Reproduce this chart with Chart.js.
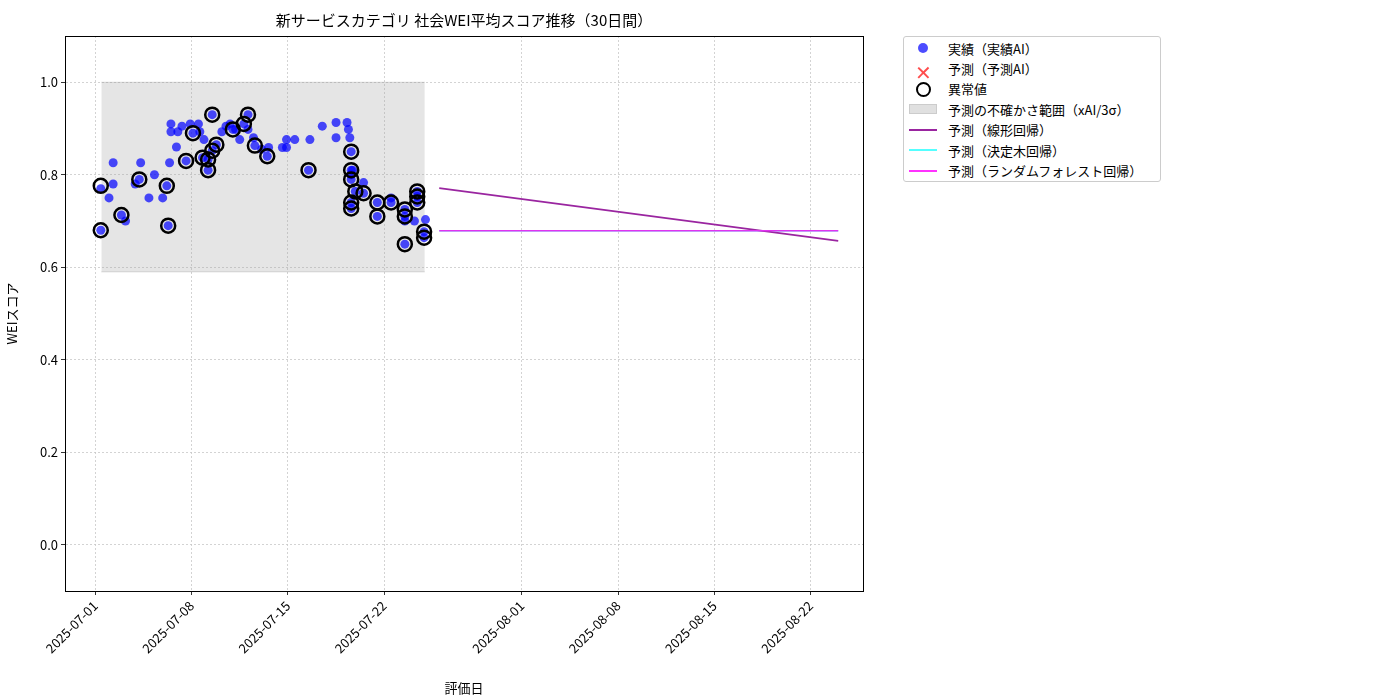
<!DOCTYPE html>
<html><head><meta charset="utf-8">
<script src="https://cdn.jsdelivr.net/npm/chart.js@4"></script>
<style>
body{margin:0;background:#fff;font-family:"Noto Sans CJK JP","DejaVu Sans",sans-serif;}
#wrap{position:relative;width:1400px;height:700px;}
#legend{position:absolute;left:903px;top:36px;width:258px;height:146px;border:1px solid #ccc;border-radius:3px;background:#fff;font-size:13px;color:#000;padding-top:1px;box-sizing:border-box}
.row{height:20.4px;display:flex;align-items:center}
.sym{width:44px;height:16px;position:relative;flex:none}
</style></head><body>
<div id="wrap"><canvas id="c" width="1400" height="700"></canvas>
<div id="legend">
<div class="row"><div class="sym"><div style="position:absolute;left:14px;top:3px;width:10px;height:10px;border-radius:50%;background:rgba(0,0,255,0.7)"></div></div>実績（実績AI）</div>
<div class="row"><div class="sym"><span style="position:absolute;left:11px;top:-4px;font-size:20px;color:rgba(255,0,0,0.7)">✕</span></div>予測（予測AI）</div>
<div class="row"><div class="sym"><div style="position:absolute;left:12px;top:1px;width:11px;height:11px;border-radius:50%;border:2.5px solid #000"></div></div>異常値</div>
<div class="row"><div class="sym"><div style="position:absolute;left:5px;top:3px;width:28px;height:10px;background:#e0e0e0;border:1px solid #ccc;box-sizing:border-box"></div></div>予測の不確かさ範囲（xAI/3σ）</div>
<div class="row"><div class="sym"><div style="position:absolute;left:5px;top:7px;width:28px;height:2px;background:#9a25a0"></div></div>予測（線形回帰）</div>
<div class="row"><div class="sym"><div style="position:absolute;left:5px;top:7px;width:28px;height:2px;background:#55ffff"></div></div>予測（決定木回帰）</div>
<div class="row"><div class="sym"><div style="position:absolute;left:5px;top:7px;width:28px;height:2px;background:#ff33ff"></div></div>予測（ランダムフォレスト回帰）</div>
</div></div>
<script>
// days since 2025-07-01
const actualDays = [0.4,0.4,1.0,1.3,1.3,1.9,2.2,2.9,3.2,3.3,3.9,4.3,4.9,5.2,5.3,5.4,5.5,5.5,5.9,6.0,6.3,6.6,6.9,7.1,7.5,7.6,7.9,7.8,8.2,8.2,8.5,8.5,8.8,9.2,9.5,9.8,10.0,10.2,10.5,10.8,11.1,11.1,11.5,11.6,12.1,12.5,12.6,13.6,13.9,13.9,14.5,15.5,15.6,16.5,17.5,17.5,18.3,18.4,18.5,18.6,18.6,18.6,18.7,18.6,19.5,18.9,19.5,18.6,18.6,20.5,20.5,21.5,21.5,22.5,22.5,22.5,23.2,22.5,23.4,23.4,23.4,24.0,23.9,23.9];
const actualVals = [0.77,0.68,0.75,0.826,0.78,0.713,0.70,0.78,0.79,0.826,0.75,0.80,0.75,0.776,0.69,0.826,0.893,0.91,0.86,0.893,0.905,0.83,0.91,0.89,0.91,0.893,0.876,0.837,0.81,0.833,0.852,0.93,0.865,0.893,0.905,0.91,0.898,0.898,0.876,0.91,0.898,0.93,0.88,0.863,0.855,0.84,0.859,0.859,0.876,0.859,0.876,0.81,0.876,0.905,0.913,0.88,0.913,0.898,0.88,0.85,0.81,0.79,0.81,0.80,0.783,0.764,0.76,0.74,0.727,0.74,0.71,0.75,0.74,0.725,0.71,0.70,0.70,0.65,0.764,0.753,0.74,0.703,0.677,0.664];
const anomalyDays = [0.4,0.4,1.9,3.2,5.2,5.3,6.6,7.1,7.8,8.2,8.2,8.5,8.5,8.8,10.0,10.8,11.1,11.6,12.5,15.5,18.6,18.6,18.6,18.9,19.5,18.6,18.6,20.5,20.5,21.5,22.5,22.5,22.5,23.4,23.4,23.4,23.9,23.9];
const anomalyVals = [0.776,0.68,0.713,0.79,0.776,0.69,0.83,0.89,0.837,0.81,0.833,0.852,0.93,0.865,0.898,0.91,0.93,0.863,0.84,0.81,0.85,0.81,0.79,0.764,0.76,0.74,0.727,0.74,0.71,0.74,0.725,0.71,0.65,0.764,0.753,0.74,0.677,0.664];
const forecastDays = [25,54];
const linearVals = [0.771,0.657];
const treeVals = [0.679,0.679];
const forestVals = [0.679,0.679];
const bandDays = [0.44,23.95];
const bandUpper = [1.0,1.0];
const bandLower = [0.59,0.59];
const xTickDays = [0,7,14,21,31,38,45,52];
const yTickVals = [0,0.2,0.4,0.6,0.8,1.0];
const title = "新サービスカテゴリ 社会WEI平均スコア推移（30日間）";

const pts=(xs,ys)=>xs.map((x,i)=>({x,y:ys[i]}));
function dayLabel(d){const t=new Date(Date.UTC(2025,6,1)+d*86400000);return t.toISOString().slice(0,10);}
const F='"Noto Sans CJK JP","DejaVu Sans",sans-serif';
new Chart(document.getElementById('c'),{
 type:'scatter',
 data:{datasets:[
  {type:'line',data:pts(bandDays,bandLower),borderColor:'rgba(150,150,150,0.3)',borderWidth:1,pointRadius:0,fill:false,order:10},
  {type:'line',data:pts(bandDays,bandUpper),borderColor:'rgba(150,150,150,0.3)',borderWidth:1,pointRadius:0,fill:'-1',backgroundColor:'rgba(160,160,160,0.28)',order:10},
  {data:pts(actualDays,actualVals),backgroundColor:'rgba(0,0,255,0.7)',borderWidth:0,pointRadius:4.5,order:5},
  {data:pts(anomalyDays,anomalyVals),backgroundColor:'rgba(0,0,0,0)',borderColor:'#000',borderWidth:2.5,pointRadius:7,order:4},
  {type:'line',data:pts(forecastDays,linearVals),borderColor:'#9a25a0',borderWidth:1.6,pointRadius:0,order:3},
  {type:'line',data:pts(forecastDays,treeVals),borderColor:'#55ffff',borderWidth:1.6,pointRadius:0,order:3},
  {type:'line',data:pts(forecastDays,forestVals),borderColor:'#e033f0',borderWidth:1.6,pointRadius:0,order:2}
 ]},
 options:{responsive:false,animation:false,
  layout:{padding:{left:0,right:537,top:36,bottom:0}},
  plugins:{legend:{display:false},tooltip:{enabled:false},title:{display:false}},
  scales:{
   x:{type:'linear',min:-2.2,max:55.8,
    afterFit:s=>{s.height=109;},
    afterBuildTicks:s=>{s.ticks=xTickDays.map(v=>({value:v}));},
    ticks:{callback:v=>dayLabel(v),minRotation:45,maxRotation:45,color:'#000',font:{family:F,size:13}},
    grid:{color:'#c8c8c8',lineWidth:0.8,tickColor:'#000',tickLength:4,drawTicks:true},
    border:{color:'#000',dash:[2,2]},
    title:{display:true,text:'評価日',color:'#000',font:{family:F,size:13},padding:{top:0}}},
   y:{min:-0.1,max:1.1,
    afterFit:s=>{s.width=65;},
    afterBuildTicks:s=>{s.ticks=yTickVals.map(v=>({value:v}));},
    ticks:{callback:v=>v.toFixed(1),color:'#000',font:{family:F,size:13}},
    grid:{color:'#c8c8c8',lineWidth:0.8,tickColor:'#000',tickLength:4},
    border:{color:'#000',dash:[2,2]},
    title:{display:true,text:'WEIスコア',color:'#000',font:{family:F,size:13}}}
  }},
 plugins:[{id:'frame',afterDraw(c){const a=c.chartArea,x=c.ctx;x.save();x.strokeStyle='#000';x.lineWidth=1;x.setLineDash([]);x.strokeRect(a.left+0.5,a.top+0.5,a.width,a.height);
   x.fillStyle='#000';x.font='15px '+F;x.textAlign='center';x.textBaseline='middle';x.fillText(title,(a.left+a.right)/2,20);x.restore();}}]
});
</script></body></html>
